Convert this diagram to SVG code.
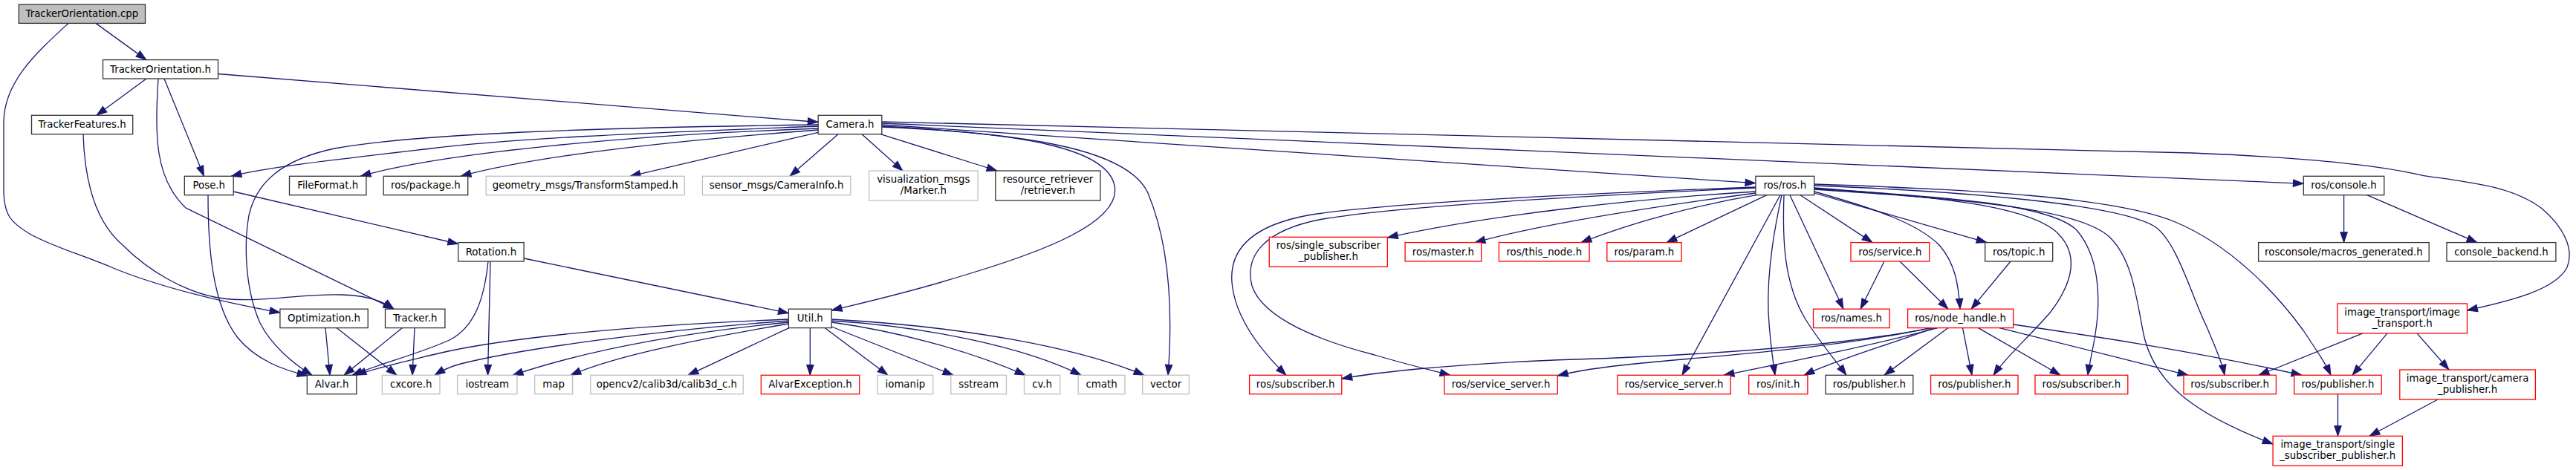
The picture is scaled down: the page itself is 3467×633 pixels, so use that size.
<svg xmlns="http://www.w3.org/2000/svg" width="3467" height="633" viewBox="0 0 3467 633">
<style>
rect{fill:#fff;stroke-width:1.3}
.b{stroke:#333}
.g{stroke:#bfbfbf}
.r{stroke:#ff0000}
.root{fill:#bfbfbf;stroke:#333}
text{font-family:"DejaVu Sans","Liberation Sans",sans-serif;font-size:13.33px;fill:#000;text-anchor:middle}
#edges path{fill:none;stroke:#191970;stroke-width:1.3;marker-end:url(#a)}
</style>
<defs>
<marker id="a" markerUnits="userSpaceOnUse" markerWidth="16" markerHeight="12" viewBox="-1 -1 16 12" refX="13.8" refY="5" orient="auto">
<path d="M0,0.4 L13.3,5 L0,9.6 Z" fill="#191970" stroke="#191970" stroke-width="1.2"/>
</marker>
</defs>
<rect x="0" y="0" width="3467" height="633" style="fill:#fff;stroke:none"/>
<g id="edges">
<path d="M129,31.4 L197,80.6"/>
<path d="M92,31.4 C50,70 5,110 5,165 L5,255 C5,290 15,300 40,315 C70,332 110,343 150,360 C210,385 290,405 377,421"/>
<path d="M293.5,99.5 L1101.2,164.5"/>
<path d="M197,106 L130,155.3"/>
<path d="M221,106 L274.5,237.3"/>
<path d="M213,106 C208,180 208,240 250,280 L530,416.2"/>
<path d="M112,180.7 C114,250 130,300 165,330 C200,365 250,395 300,402 C350,408 410,395 460,397 C495,398 515,405 530,416.2"/>
<path d="M1101.2,170 C900,178 700,185 580,200 C450,215 360,225 311,237.3"/>
<path d="M1101.2,168 C800,172 560,180 450,200 C380,215 345,245 335,290 C328,330 330,390 350,435 C365,465 395,490 420,505.3"/>
<path d="M1101.2,173 C850,182 600,205 485,237.3"/>
<path d="M1101.2,175 C900,190 720,210 620,237.3"/>
<path d="M1101.2,178.3 L848,237.3"/>
<path d="M1128,180.7 L1063,237.3"/>
<path d="M1160,180.7 L1215,230"/>
<path d="M1185,180.7 L1342,230"/>
<path d="M1186.8,170 C1380,180 1490,200 1500,250 C1510,300 1400,340 1300,370 C1220,395 1160,408 1119.2,418"/>
<path d="M1186.8,171 C1400,180 1520,205 1545,260 C1570,320 1580,400 1572,505.3"/>
<path d="M1186.8,168 L2362.9,246.7"/>
<path d="M1186.8,166 L3100.3,247.3"/>
<path d="M1186.8,164 L2950,206 C3100,212 3200,222 3262,236.7 C3320,245 3380,250 3420,280 C3450,305 3465,335 3455,360 C3440,390 3380,405 3320.5,418"/>
<path d="M314.2,258 L616.7,328.5"/>
<path d="M280,262.7 C280,330 285,410 320,455 C345,485 380,498 414,506"/>
<path d="M705.1,348 L1061.4,421.7"/>
<path d="M660,352 L656.5,505.3"/>
<path d="M657,352 C652,400 640,440 605,458 C560,478 510,490 474,505.3"/>
<path d="M1061.4,430 C850,438 680,455 590,476 C540,488 500,497 479,505.3"/>
<path d="M1061.4,432 C880,445 700,470 620,490 C605,494 595,499 585,505.3"/>
<path d="M1061.4,434 C900,450 780,475 690,505.3"/>
<path d="M1061.4,436 C950,455 830,478 768,505.3"/>
<path d="M1062,441.6 L926,505.3"/>
<path d="M1090.3,441.6 L1090.3,505.3"/>
<path d="M1110,441.6 L1195,505.3"/>
<path d="M1119.2,440 L1283,505.3"/>
<path d="M1119.2,434 C1200,445 1300,470 1380,505.3"/>
<path d="M1119.2,432 C1250,440 1380,468 1455,505.3"/>
<path d="M1119.2,430 C1300,440 1450,468 1540,505.3"/>
<path d="M438,441.6 L444,505.3"/>
<path d="M453,441.6 L534,505.3"/>
<path d="M541.5,441.6 L463,505.3"/>
<path d="M558,441.6 L555,505.3"/>
<path d="M2362.9,258 C2200,268 2000,290 1867.4,320"/>
<path d="M2362.9,260 C2250,275 2080,300 1985,326.6"/>
<path d="M2364,262.7 C2290,275 2200,298 2128,326.6"/>
<path d="M2378,262.7 L2243,326.6"/>
<path d="M2362.9,252 C2100,262 1850,275 1760,290 C1680,305 1655,340 1658,380 C1662,430 1700,475 1731,505.3"/>
<path d="M2362.9,253 C2100,265 1870,280 1780,295 C1700,310 1675,345 1685,385 C1700,430 1780,460 1850,478 C1890,490 1920,497 1952,505.3"/>
<path d="M2396,262.7 L2264,505.3"/>
<path d="M2398,262.7 C2390,300 2378,360 2380,420 C2382,460 2386,485 2389,505.3"/>
<path d="M2401,262.7 C2399,320 2400,380 2430,430 C2450,462 2470,485 2485,505.3"/>
<path d="M2409,262.7 L2481,416.2"/>
<path d="M2423,262.7 L2520,326.6"/>
<path d="M2441.7,258 C2520,280 2580,300 2610,330 C2632,355 2636,385 2638,416.2"/>
<path d="M2441.7,260 L2674,326.6"/>
<path d="M2441.7,253 C2600,265 2720,275 2765,310 C2800,340 2790,380 2760,420 C2730,455 2700,480 2683,505.3"/>
<path d="M2441.7,254 C2620,265 2760,275 2795,310 C2825,345 2828,400 2820,450 C2816,475 2812,490 2810,505.3"/>
<path d="M2441.7,255 C2640,268 2800,280 2840,320 C2870,350 2875,400 2885,450 C2900,520 2960,560 3059.1,598"/>
<path d="M2441.7,250 C2650,258 2850,275 2900,305 C2930,325 2950,400 2970,440 C2980,465 2990,485 2994,505.3"/>
<path d="M2441.7,248 C2650,255 2850,265 2930,300 C3000,330 3060,390 3100,445 C3120,475 3130,490 3137,505.3"/>
<path d="M2600,441.6 C2480,465 2300,478 2120,484 C1950,490 1850,502 1805.8,510"/>
<path d="M2598,441.6 C2480,468 2300,480 2200,490 C2150,495 2120,500 2096.3,506"/>
<path d="M2608,441.6 C2520,465 2420,485 2320,505.3"/>
<path d="M2603,441.6 C2540,465 2470,485 2428,505.3"/>
<path d="M2622,441.6 L2536,505.3"/>
<path d="M2641.5,441.6 L2654,505.3"/>
<path d="M2662.5,441.6 L2773,505.3"/>
<path d="M2691,441.6 L2945,505.3"/>
<path d="M2709.6,437 C2800,450 2950,472 3098,505.3"/>
<path d="M2536,352 L2504,416.2"/>
<path d="M2557,352 L2622,416.2"/>
<path d="M2706,352 L2653,416.2"/>
<path d="M3154.6,262.7 L3154.6,326.6"/>
<path d="M3185.7,262.7 L3334,326.6"/>
<path d="M3180,448.9 L3040,505.3"/>
<path d="M3213,448.9 L3166,505.3"/>
<path d="M3253,448.9 L3296,498"/>
<path d="M3146.5,530.7 L3146.5,587.3"/>
<path d="M3281,538 L3189,587.3"/>
</g>
<g id="n0"><rect class="root" x="25.3" y="6" width="170.2" height="25.4"/><text x="110.4" y="23">TrackerOrientation.cpp</text></g>
<g id="n1"><rect class="b" x="138.5" y="80.6" width="155" height="25.4"/><text x="216" y="97.6">TrackerOrientation.h</text></g>
<g id="n2"><rect class="b" x="42.5" y="155.3" width="136.2" height="25.4"/><text x="110.6" y="172.3">TrackerFeatures.h</text></g>
<g id="n3"><rect class="b" x="1101.2" y="155.3" width="85.6" height="25.4"/><text x="1144" y="172.3">Camera.h</text></g>
<g id="n4"><rect class="b" x="248.3" y="237.3" width="65.9" height="25.4"/><text x="281.25" y="254.3">Pose.h</text></g>
<g id="n5"><rect class="b" x="389.5" y="237.3" width="103.4" height="25.4"/><text x="441.2" y="254.3">FileFormat.h</text></g>
<g id="n6"><rect class="b" x="516.2" y="237.3" width="113.5" height="25.4"/><text x="572.95" y="254.3">ros/package.h</text></g>
<g id="n7"><rect class="g" x="654.2" y="237.3" width="267.1" height="25.4"/><text x="787.75" y="254.3">geometry_msgs/TransformStamped.h</text></g>
<g id="n8"><rect class="g" x="945.4" y="237.3" width="199.4" height="25.4"/><text x="1045.1" y="254.3">sensor_msgs/CameraInfo.h</text></g>
<g id="n9"><rect class="g" x="1169.6" y="230" width="146.5" height="40"/><text x="1242.85" y="245.8">visualization_msgs</text><text x="1242.85" y="260.6">/Marker.h</text></g>
<g id="n10"><rect class="b" x="1339.8" y="230" width="141.2" height="40"/><text x="1410.4" y="245.8">resource_retriever</text><text x="1410.4" y="260.6">/retriever.h</text></g>
<g id="n11"><rect class="b" x="2362.9" y="237.3" width="78.8" height="25.4"/><text x="2402.3" y="254.3">ros/ros.h</text></g>
<g id="n12"><rect class="b" x="3100.3" y="237.3" width="108.5" height="25.4"/><text x="3154.55" y="254.3">ros/console.h</text></g>
<g id="n13"><rect class="b" x="616.7" y="326.6" width="88.4" height="25.4"/><text x="660.9" y="343.6">Rotation.h</text></g>
<g id="n14"><rect class="r" x="1708.3" y="319.3" width="159.1" height="40"/><text x="1787.85" y="335.1">ros/single_subscriber</text><text x="1787.85" y="349.9">_publisher.h</text></g>
<g id="n15"><rect class="r" x="1891.1" y="326.6" width="102.6" height="25.4"/><text x="1942.4" y="343.6">ros/master.h</text></g>
<g id="n16"><rect class="r" x="2017.4" y="326.6" width="121.7" height="25.4"/><text x="2078.25" y="343.6">ros/this_node.h</text></g>
<g id="n17"><rect class="r" x="2162.8" y="326.6" width="100.3" height="25.4"/><text x="2212.95" y="343.6">ros/param.h</text></g>
<g id="n18"><rect class="r" x="2491" y="326.6" width="105.7" height="25.4"/><text x="2543.85" y="343.6">ros/service.h</text></g>
<g id="n19"><rect class="b" x="2671.7" y="326.6" width="91" height="25.4"/><text x="2717.2" y="343.6">ros/topic.h</text></g>
<g id="n20"><rect class="b" x="3039.6" y="326.6" width="229.6" height="25.4"/><text x="3154.4" y="343.6">rosconsole/macros_generated.h</text></g>
<g id="n21"><rect class="b" x="3293" y="326.6" width="146.9" height="25.4"/><text x="3366.45" y="343.6">console_backend.h</text></g>
<g id="n22"><rect class="b" x="376.9" y="416.2" width="118.3" height="25.4"/><text x="436.05" y="433.2">Optimization.h</text></g>
<g id="n23"><rect class="b" x="518.5" y="416.2" width="80.4" height="25.4"/><text x="558.7" y="433.2">Tracker.h</text></g>
<g id="n24"><rect class="b" x="1061.4" y="416.2" width="57.8" height="25.4"/><text x="1090.3" y="433.2">Util.h</text></g>
<g id="n25"><rect class="r" x="2440.5" y="416.2" width="102.6" height="25.4"/><text x="2491.8" y="433.2">ros/names.h</text></g>
<g id="n26"><rect class="r" x="2567.6" y="416.2" width="142" height="25.4"/><text x="2638.6" y="433.2">ros/node_handle.h</text></g>
<g id="n27"><rect class="r" x="3145.9" y="408.9" width="174.6" height="40"/><text x="3233.2" y="424.7">image_transport/image</text><text x="3233.2" y="439.5">_transport.h</text></g>
<g id="n28"><rect class="b" x="413.3" y="505.3" width="66.5" height="25.4"/><text x="446.55" y="522.3">Alvar.h</text></g>
<g id="n29"><rect class="g" x="514.3" y="505.3" width="77.7" height="25.4"/><text x="553.15" y="522.3">cxcore.h</text></g>
<g id="n30"><rect class="g" x="615.6" y="505.3" width="80.3" height="25.4"/><text x="655.75" y="522.3">iostream</text></g>
<g id="n31"><rect class="g" x="719.7" y="505.3" width="50.9" height="25.4"/><text x="745.15" y="522.3">map</text></g>
<g id="n32"><rect class="g" x="794.7" y="505.3" width="205.5" height="25.4"/><text x="897.45" y="522.3">opencv2/calib3d/calib3d_c.h</text></g>
<g id="n33"><rect class="r" x="1024.3" y="505.3" width="132.4" height="25.4"/><text x="1090.5" y="522.3">AlvarException.h</text></g>
<g id="n34"><rect class="g" x="1181" y="505.3" width="74.7" height="25.4"/><text x="1218.35" y="522.3">iomanip</text></g>
<g id="n35"><rect class="g" x="1279.8" y="505.3" width="74.6" height="25.4"/><text x="1317.1" y="522.3">sstream</text></g>
<g id="n36"><rect class="g" x="1378.5" y="505.3" width="48.2" height="25.4"/><text x="1402.6" y="522.3">cv.h</text></g>
<g id="n37"><rect class="g" x="1451.2" y="505.3" width="62.8" height="25.4"/><text x="1482.6" y="522.3">cmath</text></g>
<g id="n38"><rect class="g" x="1537.7" y="505.3" width="62.7" height="25.4"/><text x="1569.05" y="522.3">vector</text></g>
<g id="n39"><rect class="r" x="1681.6" y="505.3" width="124.2" height="25.4"/><text x="1743.7" y="522.3">ros/subscriber.h</text></g>
<g id="n40"><rect class="r" x="1944" y="505.3" width="152.3" height="25.4"/><text x="2020.15" y="522.3">ros/service_server.h</text></g>
<g id="n41"><rect class="r" x="2177" y="505.3" width="152.3" height="25.4"/><text x="2253.15" y="522.3">ros/service_server.h</text></g>
<g id="n42"><rect class="r" x="2353.7" y="505.3" width="79.2" height="25.4"/><text x="2393.3" y="522.3">ros/init.h</text></g>
<g id="n43"><rect class="b" x="2457" y="505.3" width="117.8" height="25.4"/><text x="2515.9" y="522.3">ros/publisher.h</text></g>
<g id="n44"><rect class="r" x="2598.6" y="505.3" width="117.4" height="25.4"/><text x="2657.3" y="522.3">ros/publisher.h</text></g>
<g id="n45"><rect class="r" x="2739" y="505.3" width="124.8" height="25.4"/><text x="2801.4" y="522.3">ros/subscriber.h</text></g>
<g id="n46"><rect class="r" x="2939" y="505.3" width="124.4" height="25.4"/><text x="3001.2" y="522.3">ros/subscriber.h</text></g>
<g id="n47"><rect class="r" x="3087.7" y="505.3" width="117.5" height="25.4"/><text x="3146.45" y="522.3">ros/publisher.h</text></g>
<g id="n48"><rect class="r" x="3229.8" y="498" width="182.6" height="40"/><text x="3321.1" y="513.8">image_transport/camera</text><text x="3321.1" y="528.6">_publisher.h</text></g>
<g id="n49"><rect class="r" x="3059.1" y="587.3" width="174.3" height="40"/><text x="3146.25" y="603.1">image_transport/single</text><text x="3146.25" y="617.9">_subscriber_publisher.h</text></g>
</svg>
